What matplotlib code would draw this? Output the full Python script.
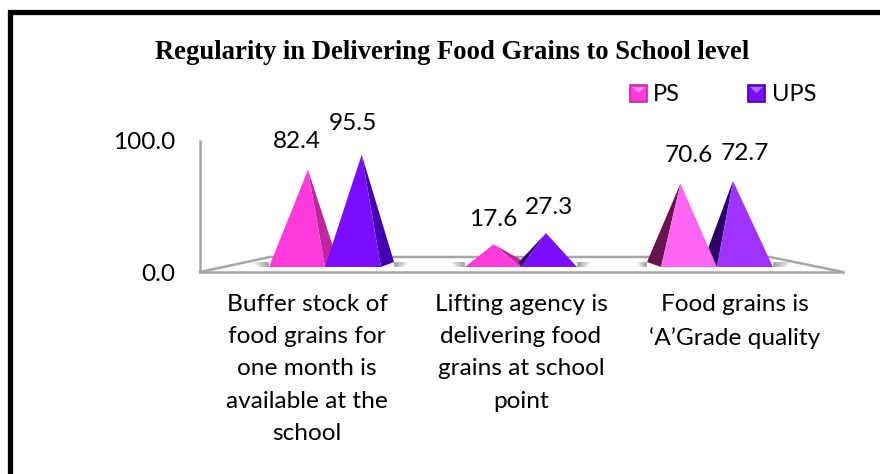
import matplotlib
matplotlib.use("Agg")
import matplotlib.pyplot as plt
from matplotlib.patches import Polygon, Rectangle

categories = [
    "Buffer stock of\nfood grains for\none month is\navailable at the\nschool",
    "Lifting agency is\ndelivering food\ngrains at school\npoint",
    "Food grains is\n\u2018A\u2019Grade quality",
]
series_names = ["PS", "UPS"]
ps_values = [82.4, 17.6, 70.6]
ups_values = [95.5, 27.3, 72.7]
y_ticks = [0.0, 100.0]

W, H = 880, 474
# front, right side, lit front, left side
PS_COLORS = ("#ff3bdc", "#c0269f", "#ff66f5", "#66154f")
UPS_COLORS = ("#7a0dff", "#4400b0", "#a033ff", "#2a0066")
GRAY = "#a6a6a6"

# axes units: 214 px per category, 1.32 px per percent
PX_X = 1 / 214
PX_Y = 1 / 1.32
SQUEEZE = 196 / 214     # pyramids sit closer together than the labels
HEIGHT_K = 1.15 / 1.32
BASE_Y = 5 * PX_Y
HALF = 28 * PX_X


def px_axes(fig):
    left, right, top, bottom = 200, 843, 140, 272
    ax = fig.add_axes([left / W, 1 - bottom / H, (right - left) / W, (bottom - top) / H])
    ax.set_xlim((left - 307) / 214, (right - 307) / 214)
    ax.set_ylim(0, 100)
    ax.axis("off")
    return ax


def draw_floor(ax):
    x0, x1 = ax.get_xlim()
    back = 15 * PX_Y
    ax.plot([x0, x0], [0, 100], color=GRAY, lw=1.8, clip_on=False, solid_capstyle="butt")
    ax.plot([x0, x1], [0, 0], color=GRAY, lw=1.8, clip_on=False, zorder=1)
    ax.plot([x0, x0 + 70 * PX_X, x1 - 73 * PX_X, x1], [0, back, back, 0],
            color=GRAY, lw=1.8, clip_on=False, zorder=1)


def draw_shadow(ax, edge, direction, length):
    # stacked wedges so the gray fades away from the pyramid
    for j in range(1, 7):
        reach = length * j / 6 * PX_X * direction
        pts = [(edge, BASE_Y), (edge + reach * 0.7, BASE_Y),
               (edge + reach, BASE_Y + 5 * PX_Y), (edge, BASE_Y + 5 * PX_Y)]
        ax.add_patch(Polygon(pts, closed=True, fc="#707070", ec="none", alpha=0.14, zorder=2))


def draw_pyramid(ax, cx, value, lean, side, colors, z, lit=False):
    apex = (cx + lean * PX_X, BASE_Y + 2.5 * PX_Y + value * HEIGHT_K)
    front, dark, front_light, dark_left = colors
    left = (cx - HALF, BASE_Y)
    right = (cx + HALF, BASE_Y)
    if side > 0:
        back = (cx + HALF + side * PX_X, BASE_Y + 5 * PX_Y)
        ax.add_patch(Polygon([apex, right, back], closed=True, fc=dark, ec="none", zorder=z))
    elif side < 0:
        back = (cx - HALF + side * PX_X, BASE_Y + 5 * PX_Y)
        ax.add_patch(Polygon([apex, left, back], closed=True, fc=dark_left, ec="none", zorder=z))
    face = front_light if lit else front
    ax.add_patch(Polygon([apex, left, right], closed=True, fc=face, ec="none", zorder=z + 0.1))


def legend_key(fig, x, y, front, dark):
    s = 17
    fig.add_artist(Rectangle((x / W, 1 - (y + s) / H), s / W, s / H, transform=fig.transFigure,
                             fc=front, ec=dark, lw=1.2))
    fig.add_artist(Polygon([((x + 2) / W, 1 - (y + 2) / H), ((x + s - 2) / W, 1 - (y + 2) / H),
                            ((x + s / 2) / W, 1 - (y + 8) / H)],
                           closed=True, transform=fig.transFigure, fc="white", ec="none", alpha=0.4))


def main():
    plt.rcParams["font.family"] = ["Lato", "DejaVu Sans"]
    fig = plt.figure(figsize=(W / 100, H / 100), dpi=100, facecolor="white")

    # black frame: left and top only
    fig.add_artist(plt.Line2D([10 / W, 10 / W, 1], [0, 1 - 12 / H, 1 - 12 / H],
                              color="black", lw=3.8, solid_joinstyle="miter"))

    ax = px_axes(fig)
    draw_floor(ax)

    ps_lean = [11, 0.5, -8.5]
    ups_lean = [8.7, -3, -12]
    ps_side = [13, 4, -14]
    ups_side = [13, -2, -14]
    ps_label_y = [130, 53, 116]
    ups_label_y = [149, 65, 119]
    shadows = [
        [(-1, 16, 0), (1, 14, 13)],
        [(-1, 14, 0), (1, 14, 0)],
        [(-1, 10, -14), (1, 18, 0)],
    ]
    for i in range(len(categories)):
        cx = 1 + (i - 1) * SQUEEZE
        cx_ps = cx - 28 * PX_X
        cx_ups = cx + 28 * PX_X
        for direction, length, extra in shadows[i]:
            edge = (cx_ps - HALF if direction < 0 else cx_ups + HALF) + extra * PX_X
            draw_shadow(ax, edge, direction, length)
        # third group: PS stands in front of UPS and both faces are lit
        z_ps, z_ups = (3, 4) if i < 2 else (4, 3)
        draw_pyramid(ax, cx_ps, ps_values[i], ps_lean[i], ps_side[i], PS_COLORS, z_ps, lit=i == 2)
        draw_pyramid(ax, cx_ups, ups_values[i], ups_lean[i], ups_side[i], UPS_COLORS, z_ups, lit=i == 2)
        ax.text(cx_ps, ps_label_y[i] * PX_Y, f"{ps_values[i]:.1f}",
                fontsize=17.6, ha="center", va="center", color="black", clip_on=False)
        ax.text(cx_ups, ups_label_y[i] * PX_Y, f"{ups_values[i]:.1f}",
                fontsize=17.6, ha="center", va="center", color="black", clip_on=False)
        ax.text(i, -22 * PX_Y, categories[i], fontsize=17.6, ha="center", va="top",
                linespacing=1.66, color="black", clip_on=False)

    x0 = ax.get_xlim()[0]
    for t in y_ticks:
        ax.text(x0 - 25 * PX_X, t - 2.5 * PX_Y, f"{t:.1f}", fontsize=17.6, ha="right", va="center", clip_on=False)

    fig.text(452 / W, 1 - 52.5 / H, "Regularity in Delivering Food Grains to School level",
             family="Liberation Serif", fontweight="bold", fontsize=19.2, ha="center", va="center")

    legend_key(fig, 630, 85, PS_COLORS[0], PS_COLORS[1])
    fig.text(653 / W, 1 - 94.5 / H, series_names[0], fontsize=17, va="center")
    legend_key(fig, 748, 85, UPS_COLORS[0], UPS_COLORS[1])
    fig.text(772 / W, 1 - 94.5 / H, series_names[1], fontsize=17, va="center")

    fig.savefig("out.png", dpi=100)


if __name__ == "__main__":
    main()
